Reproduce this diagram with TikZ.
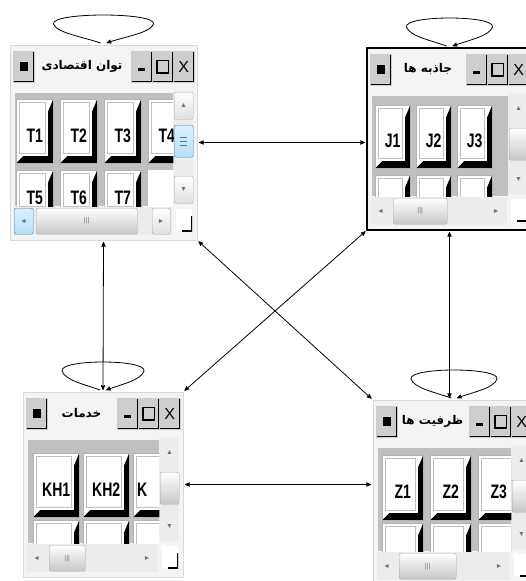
\documentclass[tikz,border=0pt]{standalone}
\usepackage{fontspec}
\setmainfont{Liberation Sans}
\newfontfamily\persianfont[Script=Arabic]{DejaVu Sans}
\newfontfamily\btnfont[FakeStretch=0.72]{Liberation Sans}
\TeXXeTstate=1
\usetikzlibrary{arrows,shapes,positioning,calc}
\definecolor{winback}{RGB}{244,244,244}
\definecolor{trackgray}{RGB}{236,236,236}
\definecolor{panegray}{RGB}{192,192,192}
\definecolor{btngray}{RGB}{206,206,206}
\definecolor{barblue}{RGB}{180,222,248}
\definecolor{barborder}{RGB}{60,127,177}
\newcommand{\maxicon}{{\setlength{\fboxrule}{1.3pt}\setlength{\fboxsep}{0pt}\fbox{\rule{0pt}{11pt}\hspace{10pt}}}}
\tikzset{
	window/.style={
		rectangle,
		anchor=north west,
		inner sep=0pt,
		outer sep=0pt,
		fill=winback,
		draw=black!15,
	},
	mainwindow/.style={
		window,
		draw=black,
		line width=2.5pt,
	},
	titlebtn/.style={
		rectangle,
		anchor=north west,
		inner sep=0pt,
		minimum width=21pt,
		minimum height=31pt,
		fill=btngray,
		draw=black!20,
		font=\fontsize{16}{16}\selectfont,
		path picture={
			\draw[black, line width=3pt] (path picture bounding box.north east) -- (path picture bounding box.south east) -- (path picture bounding box.south west);
		},
	},
	titletext/.style={
		inner sep=0pt,
		font=\persianfont\bfseries\fontsize{12}{12}\selectfont,
	},
	pane/.style={
		rectangle,
		anchor=north west,
		inner sep=0pt,
		fill=panegray,
	},
	track/.style={
		rectangle,
		anchor=north west,
		inner sep=0pt,
		fill=trackgray,
	},
	arrowflat/.style={
		rectangle,
		anchor=north west,
		inner sep=0pt,
		font=\fontsize{7}{7}\selectfont,
		text=black!55,
	},
	arrowbox/.style={
		arrowflat,
		rounded corners=2pt,
		draw=black!35,
		top color=white,
		bottom color=black!12,
	},
	thumb/.style={
		rectangle,
		anchor=north west,
		inner sep=0pt,
		rounded corners=2pt,
		draw=black!35,
		top color=white,
		bottom color=black!22,
		font=\fontsize{7}{7}\selectfont,
		text=black!55,
	},
	w1 hover thumb/.style={
		draw=barborder,
		top color=barblue!45,
		bottom color=barblue,
		path picture={
			\coordinate (ppw) at (path picture bounding box.west);
			\coordinate (ppe) at (path picture bounding box.east);
			\foreach \k in {-4,0,4}
				\draw[barborder, thick] ($($(ppw)!6pt!(ppe)$)+(0,\k)$) -- ($($(ppe)!6pt!(ppw)$)+(0,\k)$);
		},
	},
	w1 hover arrow/.style={
		draw=barborder,
		top color=barblue!45,
		bottom color=barblue,
		text=barborder,
	},
	grip/.style={
		rectangle,
		anchor=north west,
		inner sep=0pt,
		minimum width=16pt,
		minimum height=22pt,
		fill=white,
		path picture={
			\coordinate (ppne) at (path picture bounding box.north east);
			\coordinate (ppse) at (path picture bounding box.south east);
			\coordinate (ppsw) at (path picture bounding box.south west);
			\draw[black, line width=3pt] ($(ppne)!7pt!(ppse)$) -- (ppse) -- ($(ppsw)!6pt!(ppse)$);
		},
	},
	btn/.style={
		rectangle,
		anchor=north west,
		inner sep=0pt,
		fill=white,
		draw=black!30,
		font=\btnfont\bfseries\fontsize{19.5}{19.5}\selectfont,
		text height=22pt,
		text depth=0pt,
		path picture={
			\coordinate (ppne) at (path picture bounding box.north east);
			\coordinate (ppse) at (path picture bounding box.south east);
			\coordinate (ppsw) at (path picture bounding box.south west);
			% inner edges of the face
			\coordinate (ppfl) at ($(ppsw)!3pt!(ppse)$);
			\coordinate (ppft) at ($(ppne)!3pt!(ppse)$);
			\coordinate (ppfr) at ($(ppse)!8pt!(ppsw)$);
			\coordinate (ppfb) at ($(ppse)!10pt!(ppne)$);
			\draw[black!25] (ppfl |- ppft) rectangle (ppfr |- ppfb);
			% black shadow
			\coordinate (ppbl) at ($(ppsw)!7pt!(ppse)$);
			\coordinate (ppbr) at ($(ppse)!5pt!(ppsw)$);
			\coordinate (ppbb) at ($(ppse)!7pt!(ppne)$);
			\coordinate (ppbt) at ($(ppne)!12pt!(ppse)$);
			\fill[black] (ppne) -- (ppse) -- (ppsw) -- (ppbl |- ppbb) -- (ppbr |- ppbb) -- (ppbr |- ppbt) -- cycle;
		},
	},
	blank/.style={
		rectangle,
		anchor=north west,
		inner sep=0pt,
		fill=white,
	},
	link/.style={
		<->,
		thick,
		shorten <=2pt,
		shorten >=2pt,
	},
	selfarc/.style={
		->,
		thick,
	},
}
% a small window: name, top left corner, width, height, title, thumb length, arrow style
\newcommand{\guiwindow}[8][window]{%
	\node[#1, minimum width=#4pt, minimum height=#5pt] (#2) at (#3) {};
	\begin{scope}[shift={(#3)}]
		\node[titlebtn] (#2sq) at (3,6) {\rule{8pt}{9pt}};
		\node[titletext] (#2title) at ({(#4-43)/2},21) {#6};
		\node[titlebtn] (#2min) at (#4-66,6) {\rule[-8pt]{7pt}{3pt}};
		\node[titlebtn] (#2max) at (#4-45,6) {\maxicon};
		\node[titlebtn] (#2cls) at (#4-24,6) {X};
		\node[pane, minimum width=#4pt-29pt, minimum height=#5pt-82pt] (#2pane) at (5,48) {};
		\node[track, minimum width=20pt, minimum height=#5pt-82pt] (#2vbar) at (#4-24,46) {};
		\node[#8, minimum width=19pt, minimum height=27pt] (#2up) at (#4-23,47) {▲};
		\node[thumb, #2 hover thumb/.try, minimum width=19pt, minimum height=32pt] (#2vthumb) at (#4-23,80) {};
		\node[#8, minimum width=19pt, minimum height=27pt] (#2down) at (#4-23,#5-64) {▼};
		\node[track, minimum width=#4pt-29pt, minimum height=28pt] (#2hbar) at (4,#5-33) {};
		\node[#8, #2 hover arrow/.try, minimum width=19pt, minimum height=26pt] (#2left) at (4,#5-32) {◄};
		\node[thumb, minimum width=#7pt, minimum height=26pt] (#2hthumb) at (26,#5-32) {|||};
		\node[#8, minimum width=18pt, minimum height=26pt] (#2right) at (#4-45,#5-32) {►};
		\node[grip] (#2grip) at (#4-21,#5-31) {};
	\end{scope}
}
\newcommand{\selfloop}[2]{%
	\draw[selfarc] ($(#1.north)+(-3,-2)$)
		.. controls ($(#1.north)+(-20,-8)$) and ($(#1.north)+(-#2+3,-12)$) .. ($(#1.north)+(-#2,-21)$)
		.. controls ($(#1.north)+(-#2-3,-33)$) and ($(#1.north)+(#2+3,-33)$) .. ($(#1.north)+(#2,-21)$)
		.. controls ($(#1.north)+(#2-3,-12)$) and ($(#1.north)+(20,-8)$) .. ($(#1.north)+(3,-2)$);
}

\begin{document}
\begin{tikzpicture}[x=1pt,y=-1pt,>=stealth']
	\useasboundingbox (0,0) rectangle (526,581);
	\clip (0,0) rectangle (526,581);

	\guiwindow{w1}{10,45}{187}{195}{\beginR توان اقتصادی\endR}{101}{arrowbox}
	\guiwindow[mainwindow]{w2}{367,48}{165}{182}{\beginR جاذبه ها\endR}{54}{arrowflat}
	\guiwindow{w3}{23,392}{160}{185}{\beginR خدمات\endR}{36}{arrowflat}
	\guiwindow{w4}{373,400}{162}{185}{\beginR ظرفیت ها\endR}{57}{arrowflat}

	% buttons
	\begin{scope}
		\clip (w1pane.north west) rectangle (w1pane.south east);
		\foreach \l [count=\i] in {T1,T2,T3,T4}
			\node[btn, minimum width=37pt, minimum height=64pt] (w1b\i) at ($(w1pane.north west)+({1+44*(\i-1)},6)$) {\l};
		\foreach \l [count=\i from 5] in {T5,T6,T7}
			\node[btn, minimum width=37pt, minimum height=46pt] (w1b\i) at ($(w1pane.north west)+({1+44*(\i-5)},77)$) {\l};
		\node[blank, minimum width=30pt, minimum height=40pt] (w1blank) at ($(w1pane.north west)+(133,77)$) {};
	\end{scope}

	\begin{scope}
		\clip (w2pane.north west) rectangle (w2pane.south east);
		\foreach \l [count=\i] in {J1,J2,J3}
			\node[btn, minimum width=35pt, minimum height=63pt] (w2b\i) at ($(w2pane.north west)+({3+41*(\i-1)},9)$) {\l};
		\foreach \i in {4,5,6}
			\node[btn, minimum width=35pt, minimum height=60pt] (w2b\i) at ($(w2pane.north west)+({3+41*(\i-4)},79)$) {};
	\end{scope}

	\begin{scope}
		\clip (w3pane.north west) rectangle (w3pane.south east);
		\foreach \l [count=\i] in {KH1,KH2}
			\node[btn, minimum width=46pt, minimum height=64pt] (w3b\i) at ($(w3pane.north west)+({5+50*(\i-1)},13)$) {\l};
		\node[btn, minimum width=46pt, minimum height=64pt, text width=38pt, align=left] (w3b3) at ($(w3pane.north west)+(105,13)$) {K};
		\foreach \i in {4,5,6}
			\node[btn, minimum width=46pt, minimum height=60pt] (w3b\i) at ($(w3pane.north west)+({5+50*(\i-4)},80)$) {};
	\end{scope}

	\begin{scope}
		\clip (w4pane.north west) rectangle (w4pane.south east);
		\foreach \l [count=\i] in {Z1,Z2,Z3}
			\node[btn, minimum width=41pt, minimum height=65pt] (w4b\i) at ($(w4pane.north west)+({4+48*(\i-1)},7)$) {\l};
		\foreach \i in {4,5,6}
			\node[btn, minimum width=41pt, minimum height=60pt] (w4b\i) at ($(w4pane.north west)+({4+48*(\i-4)},75)$) {};
	\end{scope}

	% relations
	\draw[link] (w1.east) -- (w1.east -| w2.west);
	\draw[link] (w1.south) -- (w3.north);
	\draw[link] (w2.south) -- (w2.south |- w4.north);
	\draw[link] (w3.east) -- (w3.east -| w4.west);
	\draw[link] (w1.south east) -- (w4.north west);
	\draw[link] (w2.south west) -- (w3.north east);

	\selfloop{w1}{50}
	\selfloop{w2}{43}
	\selfloop{w3}{41}
	\selfloop{w4}{43}
\end{tikzpicture}
\end{document}
